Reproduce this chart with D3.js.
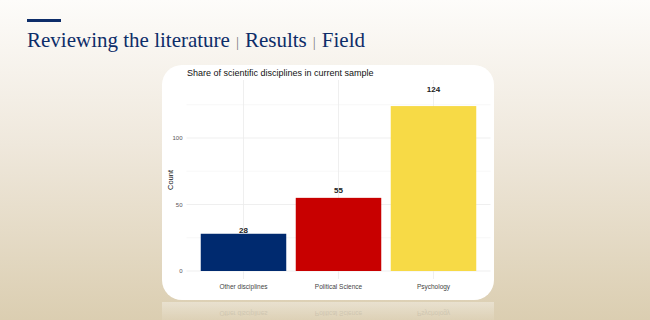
<!DOCTYPE html>
<html>
<head>
<meta charset="utf-8">
<script src="https://cdn.jsdelivr.net/npm/d3@7"></script>
<style>
  html, body { margin: 0; padding: 0; }
  body { width: 650px; height: 320px; overflow: hidden; }
</style>
</head>
<body>
<div id="chart"></div>
<script>
const categories = ["Other disciplines", "Political Science", "Psychology"];
const counts = [28, 55, 124];
const barColors = ["#002a6f", "#c80000", "#f7da46"];
const yTicks = [0, 50, 100];
const yMinor = [25, 75, 125];

const W = 650, H = 320;

const svg = d3
  .select("#chart")
  .append("svg")
  .attr("width", W)
  .attr("height", H);

// slide background
const defs = svg.append("defs");
const bg = defs
  .append("linearGradient")
  .attr("id", "bg")
  .attr("x1", 0).attr("y1", 0).attr("x2", 0).attr("y2", 1);
bg.append("stop").attr("offset", "0%").attr("stop-color", "#fdfcfa");
bg.append("stop").attr("offset", "45%").attr("stop-color", "#efe8dc");
bg.append("stop").attr("offset", "100%").attr("stop-color", "#dbceb1");

const refl = defs
  .append("linearGradient")
  .attr("id", "refl")
  .attr("x1", 0).attr("y1", 0).attr("x2", 0).attr("y2", 1);
refl.append("stop").attr("offset", "0%").attr("stop-color", "#fff").attr("stop-opacity", 0.35);
refl.append("stop").attr("offset", "100%").attr("stop-color", "#fff").attr("stop-opacity", 0);

svg.append("rect").attr("width", W).attr("height", H).attr("fill", "url(#bg)");

// header
svg
  .append("rect")
  .attr("x", 27).attr("y", 19)
  .attr("width", 34).attr("height", 3)
  .attr("fill", "#0d2d69");

svg
  .append("text")
  .attr("x", 27)
  .attr("y", 47)
  .style("font-family", "'Liberation Serif', 'DejaVu Serif', serif")
  .style("font-size", "21px")
  .style("fill", "#0d2d69")
  .text("Reviewing the literature")
  .append("tspan").style("fill", "#7a7a80").style("font-size", "15px").attr("dx", 6).text("|")
  .select(function () { return this.parentNode; })
  .append("tspan").attr("dx", 6).text("Results")
  .select(function () { return this.parentNode; })
  .append("tspan").style("fill", "#7a7a80").style("font-size", "15px").attr("dx", 6).text("|")
  .select(function () { return this.parentNode; })
  .append("tspan").attr("dx", 6).text("Field");

// card
const card = { x: 162, y: 65, w: 332, h: 235 };
svg
  .append("rect")
  .attr("x", card.x).attr("y", card.y)
  .attr("width", card.w).attr("height", card.h)
  .attr("rx", 20)
  .attr("fill", "#ffffff");

// reflection below card
svg
  .append("rect")
  .attr("x", card.x).attr("y", card.y + card.h + 2)
  .attr("width", card.w).attr("height", 22)
  .attr("fill", "url(#refl)");

// plot
const x = d3.scaleBand().domain(categories).range([186.5, 490.5]).paddingInner(0.1).paddingOuter(0.15);
const y = d3.scaleLinear().domain([0, 125]).range([271, 104.75]);
const plotTop = 80;

const g = svg.append("g");

// grid
g.selectAll(".ymin")
  .data(yMinor)
  .join("line")
  .attr("x1", 186.5).attr("x2", 490.5)
  .attr("y1", (d) => y(d)).attr("y2", (d) => y(d))
  .style("stroke", "#f4f4f4").style("stroke-width", 0.6);

g.selectAll(".ymaj")
  .data(yTicks)
  .join("line")
  .attr("x1", 186.5).attr("x2", 490.5)
  .attr("y1", (d) => y(d)).attr("y2", (d) => y(d))
  .style("stroke", "#ebebeb").style("stroke-width", 0.8);

g.selectAll(".xmaj")
  .data(categories)
  .join("line")
  .attr("x1", (d) => x(d) + x.bandwidth() / 2)
  .attr("x2", (d) => x(d) + x.bandwidth() / 2)
  .attr("y1", plotTop).attr("y2", 279)
  .style("stroke", "#ebebeb").style("stroke-width", 0.8);

// bars
g.selectAll(".bar")
  .data(categories)
  .join("rect")
  .attr("class", "bar")
  .attr("x", (d) => x(d))
  .attr("y", (d, i) => y(counts[i]))
  .attr("width", x.bandwidth())
  .attr("height", (d, i) => y(0) - y(counts[i]))
  .style("fill", (d, i) => barColors[i]);

// value labels
g.selectAll(".lab")
  .data(categories)
  .join("text")
  .attr("x", (d) => x(d) + x.bandwidth() / 2)
  .attr("y", (d, i) => y(counts[i] * 1.1))
  .attr("dy", "0.35em")
  .attr("text-anchor", "middle")
  .style("font-family", "'Liberation Sans', Arial, sans-serif")
  .style("font-size", "8px")
  .style("font-weight", "bold")
  .style("fill", "#222")
  .text((d, i) => counts[i]);

// y axis
const yAxis = g
  .append("g")
  .attr("transform", "translate(186.5,0)")
  .call(d3.axisLeft(y).tickValues(yTicks).tickSize(0).tickPadding(4));
yAxis.select(".domain").remove();
yAxis
  .selectAll("text")
  .style("font-family", "'Liberation Sans', Arial, sans-serif")
  .style("font-size", "6px")
  .style("fill", "#555");

// x axis
const xAxis = g
  .append("g")
  .attr("transform", "translate(0,271)")
  .call(d3.axisBottom(x).tickSize(0).tickPadding(13));
xAxis.select(".domain").remove();
xAxis
  .selectAll("text")
  .style("font-family", "'Liberation Sans', Arial, sans-serif")
  .style("font-size", "6.5px")
  .style("fill", "#444");

// reflected x labels
g.selectAll(".refl")
  .data(categories)
  .join("text")
  .attr("transform", (d) => `translate(${x(d) + x.bandwidth() / 2},313) scale(1,-1)`)
  .attr("text-anchor", "middle")
  .attr("dy", "0.35em")
  .style("font-family", "'Liberation Sans', Arial, sans-serif")
  .style("font-size", "6.5px")
  .style("fill", "#444")
  .style("opacity", 0.12)
  .text((d) => d);

// axis title
g.append("text")
  .attr("transform", "translate(170,180) rotate(-90)")
  .attr("text-anchor", "middle")
  .attr("dy", "0.35em")
  .style("font-family", "'Liberation Sans', Arial, sans-serif")
  .style("font-size", "7.5px")
  .style("fill", "#111")
  .text("Count");

// chart title
g.append("text")
  .attr("x", 187)
  .attr("y", 76)
  .style("font-family", "'Liberation Sans', Arial, sans-serif")
  .style("font-size", "9px")
  .style("fill", "#111")
  .text("Share of scientific disciplines in current sample");
</script>
</body>
</html>
